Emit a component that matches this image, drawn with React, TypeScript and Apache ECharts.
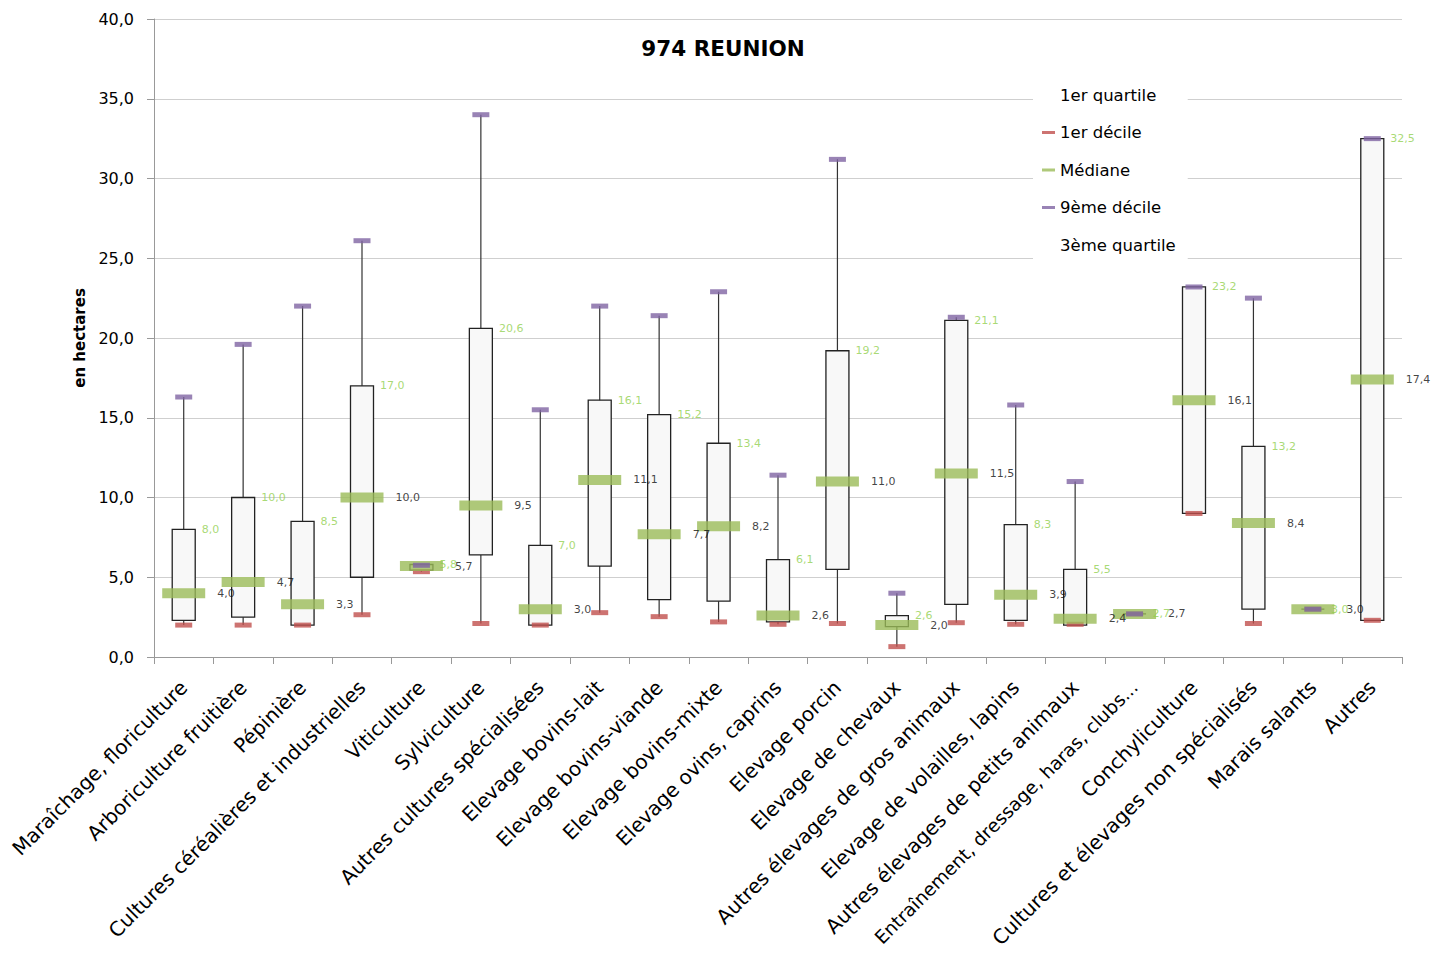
import React, { useEffect, useRef } from "react";
import * as echarts from "echarts";

const categories = [
  "Maraîchage, floriculture",
  "Arboriculture fruitière",
  "Pépinière",
  "Cultures céréalières et industrielles",
  "Viticulture",
  "Sylviculture",
  "Autres cultures spécialisées",
  "Elevage bovins-lait",
  "Elevage bovins-viande",
  "Elevage bovins-mixte",
  "Elevage ovins, caprins",
  "Elevage porcin",
  "Elevage de chevaux",
  "Autres élevages de gros animaux",
  "Elevage de volailles, lapins",
  "Autres élevages de petits animaux",
  "Entraînement, dressage, haras, clubs...",
  "Conchyliculture",
  "Cultures et élevages non spécialisés",
  "Marais salants",
  "Autres",
];

const decile1 = [2.0, 2.0, 2.0, 2.65, 5.35, 2.1, 2.0, 2.78, 2.53, 2.2, 2.05, 2.1, 0.65, 2.15, 2.05, 2.05, 2.7, 9.0, 2.1, 3.0, 2.3];
const quartile1 = [2.3, 2.5, 2.0, 5.0, 5.45, 6.4, 2.0, 5.7, 3.6, 3.5, 2.2, 5.5, 1.9, 3.3, 2.3, 2.0, 2.7, 9.0, 3.0, 3.0, 2.3];
const median = [4.0, 4.7, 3.3, 10.0, 5.7, 9.5, 3.0, 11.1, 7.7, 8.2, 2.6, 11.0, 2.0, 11.5, 3.9, 2.4, 2.7, 16.1, 8.4, 3.0, 17.4];
const quartile3 = [8.0, 10.0, 8.5, 17.0, 5.8, 20.6, 7.0, 16.1, 15.2, 13.4, 6.1, 19.2, 2.6, 21.1, 8.3, 5.5, 2.7, 23.2, 13.2, 3.0, 32.5];
const decile9 = [16.3, 19.6, 22.0, 26.1, 5.75, 34.0, 15.5, 22.0, 21.4, 22.9, 11.4, 31.2, 4.0, 21.3, 15.8, 11.0, 2.7, 23.2, 22.5, 3.0, 32.5];

const FONT = "DejaVu Sans";
const fmt = (v: number) => v.toFixed(1).replace(".", ",");

export default function App() {
  const ref = useRef<HTMLDivElement>(null);
  useEffect(() => {
    if (!ref.current) return;
    const chart = echarts.init(ref.current, undefined, { renderer: "svg" });
    const boxData = categories.map((_, i) => [i, decile1[i], quartile1[i], quartile3[i], decile9[i]]);
    const axisData = categories.map((c) =>
      c.length > 38 ? { value: c, textStyle: { fontSize: 18.5 } } : c
    );
    chart.setOption({
      animation: false,
      backgroundColor: "#fff",
      title: {
        text: "974 REUNION",
        left: "center",
        top: 32,
        textStyle: { fontFamily: FONT, fontSize: 21.5, fontWeight: "bold", color: "#000" },
      },
      legend: {
        orient: "vertical",
        left: 1033,
        top: 80,
        backgroundColor: "#fff",
        padding: [5, 12, 5, 9],
        itemWidth: 13,
        itemHeight: 3,
        itemGap: 17.5,
        selectedMode: false,
        textStyle: { fontFamily: FONT, fontSize: 16.5, color: "#000", lineHeight: 20 },
        data: [
          { name: "1er quartile", icon: "none" },
          { name: "1er décile", icon: "rect" },
          { name: "Médiane", icon: "rect" },
          { name: "9ème décile", icon: "rect" },
          { name: "3ème quartile", icon: "none" },
        ],
      },
      grid: { left: 154, right: 44, top: 19, bottom: 296, outerBoundsMode: "none", containLabel: false },
      xAxis: {
        type: "category",
        data: axisData,
        boundaryGap: true,
        axisLine: { lineStyle: { color: "#999", width: 1 } },
        axisTick: { show: true, length: 7, lineStyle: { color: "#999" } },
        axisLabel: {
          interval: 0,
          rotate: 45,
          margin: 27,
          fontFamily: FONT,
          fontSize: 20,
          color: "#000",
        },
      },
      yAxis: {
        type: "value",
        min: 0,
        max: 40,
        interval: 5,
        name: "en hectares",
        nameLocation: "middle",
        nameRotate: 90,
        nameGap: 66,
        nameTextStyle: { fontFamily: FONT, fontSize: 15, fontWeight: "bold", color: "#000" },
        axisLine: { show: true, lineStyle: { color: "#999", width: 1 } },
        axisTick: { show: true, length: 7, lineStyle: { color: "#999" } },
        axisLabel: {
          margin: 20,
          fontFamily: FONT,
          fontSize: 16,
          color: "#000",
          formatter: (v: number) => fmt(v),
        },
        splitLine: { show: true, lineStyle: { color: "#cfcfcf", width: 1 } },
      },
      series: [
        {
          type: "custom",
          name: "boites",
          data: boxData,
          encode: { x: 0, y: [1, 2, 3, 4] },
          renderItem: (params: any, api: any) => {
            const x = api.value(0);
            const lo = api.coord([x, api.value(1)]);
            const q1 = api.coord([x, api.value(2)]);
            const q3 = api.coord([x, api.value(3)]);
            const hi = api.coord([x, api.value(4)]);
            const w = 23;
            return {
              type: "group",
              children: [
                {
                  type: "line",
                  shape: { x1: lo[0], y1: lo[1], x2: hi[0], y2: hi[1] },
                  style: { stroke: "#333", lineWidth: 1.2 },
                },
                {
                  type: "rect",
                  shape: { x: q3[0] - w / 2, y: q3[1], width: w, height: q1[1] - q3[1] },
                  style: { fill: "#f8f8f8", stroke: "#222", lineWidth: 1.3 },
                },
              ],
            };
          },
        },
        {
          type: "scatter",
          name: "1er quartile",
          data: quartile1,
          symbol: "rect",
          symbolSize: 0.1,
          itemStyle: { color: "rgba(0,0,0,0)" },
        },
        {
          type: "scatter",
          name: "1er décile",
          data: decile1,
          symbol: "rect",
          symbolSize: [17, 5],
          itemStyle: { color: "#c0504d" },
        },
        {
          type: "scatter",
          name: "Médiane",
          data: median,
          symbol: "rect",
          symbolSize: [43, 10],
          itemStyle: { color: "#9bbb59" },
          label: {
            show: true,
            position: "right",
            distance: 12,
            fontFamily: FONT,
            fontSize: 11,
            color: "#111",
            formatter: (p: any) => fmt(p.value),
          },
        },
        {
          type: "scatter",
          name: "9ème décile",
          data: decile9,
          symbol: "rect",
          symbolSize: [17, 5],
          itemStyle: { color: "#8064a2" },
        },
        {
          type: "scatter",
          name: "3ème quartile",
          data: quartile3,
          symbol: "rect",
          symbolSize: 0.1,
          itemStyle: { color: "rgba(0,0,0,0)" },
          label: {
            show: true,
            position: "right",
            distance: 18,
            fontFamily: FONT,
            fontSize: 11,
            color: "#92d050",
            formatter: (p: any) => fmt(p.value),
          },
        },
      ],
    });
    return () => chart.dispose();
  }, []);
  return (
    <div
      ref={ref}
      style={{ position: "fixed", left: 0, top: 0, width: 1446, height: 953, background: "#fff" }}
    />
  );
}
